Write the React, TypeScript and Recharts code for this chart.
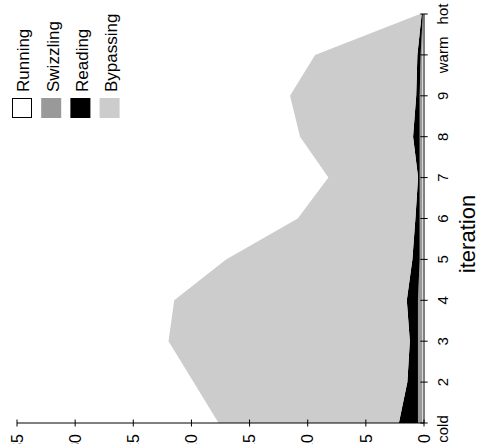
import { AreaChart, Area, XAxis, YAxis, Legend, Label } from 'recharts';

const FONT = '"Liberation Sans", Arial, Helvetica, sans-serif';

// iteration order along the category axis
const iterations = ['cold', '2', '3', '4', '5', '6', '7', '8', '9', 'warm', 'hot'];

// stacked time per phase, bottom layer first
const running = [0.14, 0.14, 0.14, 0.14, 0.14, 0.14, 0.14, 0.14, 0.14, 0.14, 0.05];
const swizzling = [0.38, 0.38, 0.38, 0.38, 0.23, 0.23, 0.23, 0.23, 0.23, 0.15, 0.05];
const reading = [1.64, 0.91, 0.7, 0.96, 0.63, 0.37, 0.14, 0.57, 0.3, 0.28, 0.1];
const bypassing = [15.51, 18.39, 20.75, 20.0, 16.02, 10.12, 7.71, 9.72, 10.85, 8.8, 0.15];

const valueTicks = [0, 5, 10, 15, 20, 25, 30, 35];

const series = [
  { key: 'running', name: 'Running', fill: '#ffffff' },
  { key: 'swizzling', name: 'Swizzling', fill: '#999999' },
  { key: 'reading', name: 'Reading', fill: '#000000' },
  { key: 'bypassing', name: 'Bypassing', fill: '#cccccc' },
];

const data = iterations.map((iteration, i) => ({
  iteration,
  running: running[i],
  swizzling: swizzling[i],
  reading: reading[i],
  bypassing: bypassing[i],
}));

function ValueTick({ x, y, payload }: any) {
  return (
    <g>
      <line x1={x - 3.5} x2={x + 3.5} y1={y} y2={y} stroke="#000" strokeWidth={1} />
      <text x={x - 11} y={y} dy="0.36em" textAnchor="end" fontSize={16} fontFamily={FONT} fill="#000">
        {payload.value}
      </text>
    </g>
  );
}

function IterationTick({ x, y, payload, index }: any) {
  // the first label sits a little left of its tick
  const dx = index === 0 ? -6 : 0;
  return (
    <g>
      <line x1={x} x2={x} y1={y - 3.7} y2={y + 3.7} stroke="#000" strokeWidth={1} />
      <text x={x + dx} y={y + 24} textAnchor="middle" fontSize={15} fontFamily={FONT} fill="#000">
        {payload.value}
      </text>
    </g>
  );
}

function IterationLabel(props: any) {
  const vb = props.viewBox || { x: 21, y: 424, width: 409, height: 53 };
  return (
    <text
      x={vb.x + vb.width / 2 - 15.5}
      y={vb.y + vb.height - 2}
      textAnchor="middle"
      fontSize={22}
      fontFamily={FONT}
      fill="#000"
    >
      iteration
    </text>
  );
}

function SeriesLegend() {
  const step = 29.2;
  return (
    <svg width={118} height={120} style={{ display: 'block' }}>
      {series.map((s, i) => (
        <g key={s.key}>
          {s.fill === '#ffffff' ? (
            <rect x={0.5} y={i * step + 0.5} width={19} height={19} fill="#fff" stroke="#000" strokeWidth={1} />
          ) : (
            <rect x={0} y={i * step} width={20} height={20} fill={s.fill} />
          )}
          <text x={26} y={i * step + 17.4} fontSize={17} fontFamily={FONT} fill="#000">
            {s.name}
          </text>
        </g>
      ))}
    </svg>
  );
}

export default function App() {
  return (
    <div
      style={{
        position: 'fixed',
        left: 0,
        top: 0,
        width: 477,
        height: 444,
        overflow: 'hidden',
        background: '#fff',
      }}
    >
      {/* chart is laid out upright, then turned a quarter turn counter-clockwise */}
      <div
        style={{
          position: 'absolute',
          left: 0,
          top: 0,
          width: 444,
          height: 477,
          transformOrigin: '0 0',
          transform: 'translate(0px, 444px) rotate(-90deg)',
        }}
      >
        <AreaChart width={444} height={477} data={data} margin={{ top: 17, right: 14, bottom: 0, left: 0 }}>
          <XAxis
            dataKey="iteration"
            interval={0}
            height={53}
            tickSize={0}
            tickMargin={0}
            tickLine={false}
            axisLine={{ stroke: '#000', strokeWidth: 1 }}
            tick={<IterationTick />}
          >
            <Label content={IterationLabel} />
          </XAxis>
          <YAxis
            type="number"
            domain={[0, 35]}
            ticks={valueTicks}
            width={21}
            tickSize={0}
            tickMargin={0}
            tickLine={false}
            axisLine={{ stroke: '#000', strokeWidth: 1 }}
            tick={<ValueTick />}
            allowDataOverflow
          />
          <Legend
            layout="vertical"
            align="center"
            verticalAlign="middle"
            wrapperStyle={{ top: 12.3, left: 326, width: 118 }}
            content={<SeriesLegend />}
          />
          {series.map((s) => (
            <Area
              key={s.key}
              type="linear"
              dataKey={s.key}
              name={s.name}
              stackId="phases"
              stroke="none"
              fill={s.fill}
              fillOpacity={1}
              dot={false}
              activeDot={false}
              isAnimationActive={false}
            />
          ))}
        </AreaChart>
      </div>
    </div>
  );
}
